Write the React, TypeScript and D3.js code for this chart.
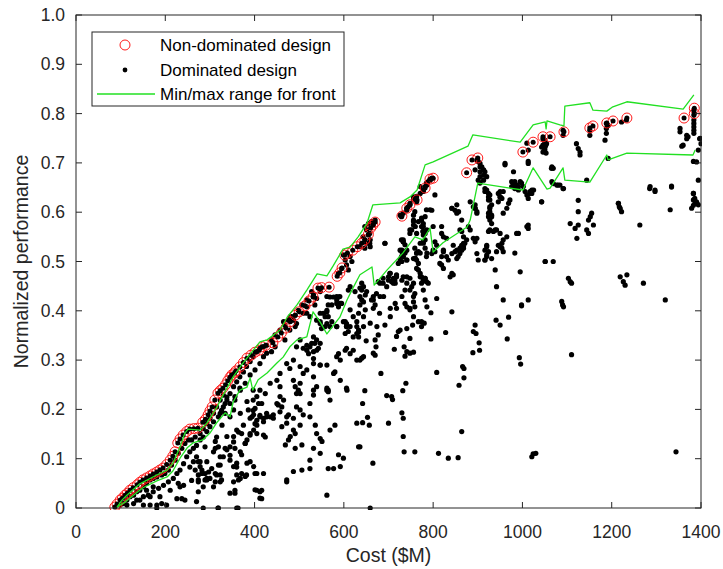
import React from 'react';
import * as d3 from 'd3';

// ---------- DATA ----------
const xTicks = [0, 200, 400, 600, 800, 1000, 1200, 1400];
const yTicks = [0, 0.1, 0.2, 0.3, 0.4, 0.5, 0.6, 0.7, 0.8, 0.9, 1.0];
const yTickLabels = ['0', '0.1', '0.2', '0.3', '0.4', '0.5', '0.6', '0.7', '0.8', '0.9', '1.0'];
const xLabel = 'Cost ($M)';
const yLabel = 'Normalized performance';
const legendLabels = ['Non-dominated design', 'Dominated design', 'Min/max range for front'];

// Non-dominated designs [cost, performance]
const nonDominated: [number, number][] = [
  [87, .002], [92, .008], [99, .016], [104, .02], [110, .026], [115, .03], [121, .036], [128, .041], [137, .047], [143, .052],
  [150, .057], [158, .061], [166, .065], [173, .069], [181, .073], [188, .077], [195, .081], [203, .088], [211, .097], [217, .105],
  [222, .114], [228, .132], [233, .14], [240, .148], [248, .155], [255, .16], [264, .161], [273, .162], [284, .174], [290, .18],
  [296, .189], [300, .197], [305, .205], [311, .219], [318, .233], [323, .238], [329, .243], [335, .25], [340, .258], [345, .265],
  [349, .27], [355, .274], [358, .278], [367, .286], [375, .295], [383, .304], [392, .31], [401, .316], [410, .32], [417, .327],
  [425, .33], [441, .335], [452, .347], [460, .355], [470, .365], [480, .378], [491, .391], [500, .398], [513, .41], [522, .42],
  [531, .428], [542, .446], [550, .447], [567, .448], [585, .47], [591, .477], [596, .487], [602, .513], [608, .517], [620, .523],
  [630, .53], [640, .537], [647, .544], [655, .555], [660, .568], [665, .574], [670, .58], [730, .592], [741, .608], [748, .615],
  [764, .625], [782, .649], [793, .667], [800, .669], [875, .68], [887, .706], [900, .71], [1001, .722], [1024, .742], [1046, .753],
  [1062, .753], [1093, .763], [1151, .771], [1158, .775], [1189, .781], [1203, .785], [1234, .791], [1362, .791], [1385, .811], [1385, .80],
];

// Max (upper) and min (lower) range of the front
const frontMax: [number, number][] = [
  [92, .002], [103, .016], [114, .026], [143, .049], [181, .067], [204, .077], [217, .091], [233, .124], [244, .152], [251, .16],
  [278, .158], [293, .172], [316, .205], [327, .225], [352, .266], [374, .294], [412, .337], [428, .341], [457, .361], [473, .387],
  [495, .412], [517, .442], [540, .475], [562, .471], [576, .491], [598, .525], [614, .529], [632, .55], [652, .578], [665, .615],
  [726, .619], [748, .631], [764, .645], [782, .696], [800, .702], [878, .734], [889, .757], [995, .742], [1024, .777], [1051, .783],
  [1053, .769], [1055, .785], [1084, .777], [1093, .775], [1095, .815], [1151, .822], [1158, .807], [1189, .805], [1201, .813], [1234, .824],
  [1360, .809], [1384, .838],
];
const frontMin: [number, number][] = [
  [92, .002], [110, .012], [137, .032], [150, .041], [181, .055], [204, .063], [217, .075], [233, .101], [249, .122], [262, .132],
  [284, .138], [300, .152], [316, .174], [334, .193], [345, .185], [352, .215], [367, .239], [383, .245], [390, .264], [396, .239],
  [408, .26], [428, .274], [450, .294], [464, .306], [479, .327], [495, .341], [517, .347], [531, .398], [547, .377], [562, .353],
  [591, .387], [607, .422], [618, .442], [636, .473], [663, .489], [668, .452], [697, .483], [732, .517], [759, .55], [777, .544],
  [793, .568], [800, .519], [822, .538], [876, .57], [883, .584], [900, .659], [972, .649], [1001, .645], [1024, .69], [1055, .647],
  [1062, .649], [1091, .69], [1095, .665], [1151, .661], [1189, .716], [1192, .706], [1234, .72], [1382, .716], [1387, .726],
];

// Dominated designs [cost, performance], grouped by region of the plot
const dominatedLow: [number, number][] = [
  [99, .006], [106, .009], [114, .016], [121, .023], [129, .026], [136, .033], [143, .036], [151, .043], [158, .05], [166, .057],
  [173, .06], [181, .063], [192, .067], [199, .07], [207, .077], [214, .087], [222, .097], [229, .111], [237, .121], [244, .131],
  [252, .138], [259, .138], [267, .144], [278, .151], [285, .161], [293, .171], [300, .182], [308, .192], [315, .205], [323, .219],
  [330, .229], [114, .006], [129, .009], [143, .016], [151, .023], [162, .026], [173, .033], [185, .04], [196, .046], [207, .053],
  [218, .06], [226, .07], [233, .077], [241, .09], [248, .104], [255, .114], [263, .121], [270, .127], [278, .138], [285, .144],
  [293, .155], [300, .165], [308, .175], [319, .185], [326, .198], [334, .212], [338, .225], [136, .016], [151, .006], [166, .006],
  [181, .006], [192, .009], [203, .006], [158, .036], [173, .043], [166, .023], [188, .023], [211, .036], [226, .019], [233, .043],
  [241, .046], [229, .05], [255, .083], [263, .094], [270, .104], [259, .056], [274, .067], [282, .077], [278, .094], [289, .07],
  [297, .073], [304, .08], [285, .043], [308, .043], [274, .033], [270, .013], [293, .06], [315, .067], [326, .057], [323, .087],
  [319, .124], [312, .121], [330, .104], [345, .107], [334, .121], [315, .144], [353, .134], [364, .154], [379, .131], [390, .151],
  [397, .198], [394, .185], [401, .171], [412, .188], [420, .182], [416, .212], [397, .219], [424, .144], [360, .083], [371, .07],
  [382, .067], [401, .07], [360, .067], [345, .097], [356, .036], [405, .036], [416, .036], [416, .019], [312, .053], [274, .053],
  [285, 0], [319, 0], [360, 0], [237, .019], [244, .016], [293, .057], [363, 0], [181, 0], [318, 0],
];
const dominatedMidLeft: [number, number][] = [
  [453, .209], [465, .219], [457, .195], [472, .172], [461, .165], [487, .158], [491, .151], [480, .145], [476, .138], [469, .128],
  [502, .168], [509, .189], [524, .185], [536, .168], [539, .151], [547, .141], [551, .135], [532, .121], [547, .111], [506, .128],
  [491, .121], [524, .097], [569, .219], [565, .236], [607, .239], [599, .101], [588, .108], [577, .08], [565, .08], [562, .026],
  [524, .08], [506, .077], [487, .074], [472, .057], [472, .053], [592, .084], [633, .124], [629, .172], [569, .158], [580, .168],
  [368, .239], [383, .216], [386, .199], [398, .189], [405, .178], [420, .175], [427, .185], [442, .182], [405, .168], [398, .158],
  [405, .151], [420, .148], [390, .148], [383, .138], [371, .151], [360, .158], [356, .121], [368, .114], [379, .131], [371, .108],
  [398, .084], [405, .07], [420, .07], [379, .064], [368, .06], [364, .057], [353, .053], [401, .037], [412, .033], [412, .02],
  [356, .03], [345, .03], [323, .053], [312, .07], [323, .067], [282, .07], [274, .057], [289, .057], [300, .06], [319, .087],
  [323, .104], [338, .118], [345, .124], [353, .145], [338, .145], [327, .168], [312, .135], [289, .124], [308, .114], [345, .185],
  [353, .199], [356, .219], [368, .192], [375, .168], [293, .094], [278, .084], [274, .094], [267, .077], [353, .084], [360, .091],
  [383, .091], [390, .094],
];
const dominatedFrontBand: [number, number][] = [
  [323, .192], [330, .205], [338, .219], [345, .232], [353, .246], [360, .256], [367, .266], [375, .276], [382, .287], [390, .297],
  [397, .307], [405, .317], [412, .324], [420, .327], [427, .33], [438, .341], [446, .351], [457, .361], [468, .371], [476, .381],
  [483, .388], [491, .391], [498, .401], [506, .412], [517, .422], [532, .432], [547, .439], [334, .192], [345, .212], [356, .226],
  [367, .243], [379, .253], [390, .27], [401, .28], [412, .293], [420, .307], [427, .314], [438, .317], [446, .327], [468, .341],
  [479, .361], [494, .374], [517, .395], [535, .412], [465, .378], [509, .324], [517, .32], [524, .327], [535, .334], [539, .341],
  [532, .317], [543, .324], [547, .334], [502, .287], [509, .273], [532, .293], [547, .29], [562, .29], [580, .276], [491, .246],
  [498, .239], [494, .232], [532, .239], [532, .229], [562, .243], [565, .239], [606, .243], [584, .307], [592, .3], [603, .32],
  [636, .3], [644, .307], [629, .354], [633, .347], [629, .378], [633, .395], [603, .378], [606, .368], [610, .358], [625, .439],
  [636, .429], [644, .418], [562, .401], [565, .388], [562, .374], [569, .368], [573, .412], [584, .415], [584, .429], [547, .374],
  [550, .364], [457, .226], [450, .212], [461, .205], [494, .205], [502, .199], [524, .212], [427, .192], [435, .185], [442, .189],
  [397, .239], [405, .226], [409, .212], [401, .202], [390, .182], [412, .185], [472, .185], [487, .182], [476, .189],
  [539, .381], [547, .395], [558, .388], [562, .398], [569, .428], [577, .428], [588, .428], [592, .415], [584, .368], [603, .354],
  [614, .368], [606, .374], [621, .347], [621, .32], [629, .3], [633, .357], [614, .313], [606, .324], [588, .313], [592, .259],
  [577, .273], [562, .239], [547, .29], [539, .32], [532, .303], [517, .33], [528, .334], [532, .347], [521, .313], [502, .341],
  [494, .327], [487, .3], [479, .283], [472, .293], [457, .273], [450, .259], [487, .259], [502, .253], [517, .28], [532, .266],
  [539, .246], [502, .232], [457, .246], [435, .253], [424, .232], [412, .239],
];
const dominatedCenter: [number, number][] = [
  [651, .564], [655, .554], [659, .544], [651, .537], [659, .53], [647, .527], [599, .513], [603, .503], [606, .493], [595, .486],
  [610, .483], [588, .476], [614, .51], [618, .5], [528, .439], [532, .432], [539, .425], [480, .388], [487, .381], [491, .368],
  [591, .429], [595, .415], [588, .408], [584, .422], [614, .449], [610, .442], [640, .442], [648, .432], [640, .422], [636, .412],
  [648, .402], [644, .388], [692, .537], [733, .54], [730, .523], [737, .517], [733, .51], [741, .503], [730, .5], [756, .594],
  [756, .581], [760, .571], [778, .577], [782, .591], [786, .564], [778, .554], [782, .544], [763, .517], [786, .517], [704, .476],
  [700, .462], [711, .466], [715, .456], [718, .469], [730, .462], [741, .456], [748, .466], [737, .442], [730, .429], [763, .486],
  [771, .469], [782, .466], [774, .456], [778, .442], [681, .429], [689, .429], [715, .415], [704, .405], [718, .405], [666, .422],
  [670, .412], [614, .402], [621, .388], [599, .378], [584, .368], [606, .368], [629, .368], [633, .361], [659, .375], [674, .368],
  [692, .371], [704, .388], [756, .429], [748, .402], [756, .388], [767, .378], [774, .368], [786, .408], [782, .422], [562, .429],
  [565, .412], [554, .395], [547, .378], [558, .368], [573, .378], [517, .408], [509, .395], [524, .388],
  [666, .405], [680, .395], [644, .368], [650, .339], [670, .341], [672, .327], [677, .351], [640, .304], [666, .314], [670, .31],
  [683, .273], [647, .238], [642, .212], [696, .228], [707, .226], [709, .22], [732, .238], [739, .253], [730, .193], [733, .182],
  [653, .184], [657, .168], [642, .173], [700, .172], [733, .145], [636, .124], [665, .091], [735, .114], [759, .114], [812, .111],
  [834, .101], [856, .102], [864, .155], [808, .275], [858, .249], [869, .264], [866, .287], [869, .283], [828, .356], [795, .343],
  [795, .396], [842, .398], [894, .371], [890, .358], [896, .354], [903, .335], [904, .32], [889, .315], [941, .381], [950, .371],
  [969, .387], [966, .343], [993, .305], [996, .292], [998, .41], [1021, .104], [1024, .11], [1030, .111], [659, 0], [718, .348],
  [722, .358], [726, .361], [741, .364], [754, .371], [774, .378], [780, .375], [748, .344], [713, .322], [735, .327], [741, .317],
  [748, .314], [756, .316], [737, .308], [737, .415], [741, .408], [748, .405], [759, .408], [756, .418], [1344, .114],
];
const dominatedUpper: [number, number][] = [
  [647, .571], [655, .577], [662, .581], [666, .574], [670, .584], [643, .55], [647, .544], [658, .557], [658, .537], [636, .53],
  [692, .537], [726, .594], [729, .591], [741, .608], [744, .611], [748, .618], [756, .625], [763, .632], [771, .638], [778, .645],
  [782, .652], [785, .659], [789, .662], [793, .665], [797, .669], [804, .635], [793, .605], [785, .605], [759, .601], [756, .574],
  [767, .581], [774, .588], [774, .571], [778, .561], [782, .557], [819, .571], [853, .615], [857, .601], [842, .608], [883, .621],
  [804, .54], [808, .533], [860, .564], [864, .561], [868, .55], [898, .601], [894, .608], [890, .611], [894, .686], [898, .706],
  [901, .703], [905, .699], [909, .692], [912, .686], [916, .682], [920, .672], [916, .648], [920, .645], [924, .638], [927, .635],
  [924, .631], [927, .625], [931, .615], [927, .608], [924, .598], [927, .594], [931, .591], [924, .561], [927, .564], [935, .561],
  [942, .564], [950, .557], [946, .638], [950, .631], [954, .628], [957, .642], [961, .696], [972, .625], [976, .652], [980, .659],
  [983, .662], [987, .655], [991, .652], [995, .662], [998, .659], [1002, .652], [1006, .642], [1010, .635], [1013, .628], [1017, .642],
  [1021, .638], [1025, .645], [1013, .699], [1043, .621], [1066, .692], [1068, .659], [1077, .655], [1084, .655], [1092, .648], [1107, .577],
  [1118, .567], [1125, .574], [1122, .547], [1125, .601], [1148, .584], [1152, .591], [1155, .598], [1159, .574], [1144, .564], [1148, .557],
  [1263, .574], [1215, .618], [1219, .608], [1222, .601], [1331, .605], [1383, .638], [1379, .608], [1383, .625], [1387, .621], [1391, .618],
  [1394, .615], [1383, .703], [1394, .665], [1286, .652], [1297, .642], [1334, .653], [1013, .574], [987, .557], [957, .544], [954, .537],
  [950, .53], [942, .52], [920, .53], [916, .523], [920, .51], [916, .503], [898, .547], [875, .544], [871, .537], [868, .53],
  [864, .523], [860, .516], [856, .51], [853, .523], [860, .527], [842, .476], [838, .469], [845, .473], [819, .493], [815, .496],
  [823, .486], [808, .425], [782, .466], [785, .459], [789, .456], [771, .476], [774, .469], [778, .462], [767, .483], [756, .456],
  [752, .449], [748, .442], [759, .435], [741, .469], [733, .469], [718, .473], [714, .462], [711, .456], [707, .459], [696, .449],
  [688, .456], [688, .466], [703, .476], [700, .469], [677, .459], [681, .456], [673, .435], [666, .429], [651, .439], [644, .449],
  [640, .456], [636, .446], [662, .422], [726, .503], [729, .51], [733, .517], [737, .52], [741, .523], [722, .496], [759, .527],
  [771, .537], [778, .54], [763, .557], [752, .564], [748, .557], [726, .523], [729, .544], [733, .54], [756, .506], [767, .52],
  [771, .517], [785, .51], [767, .496], [763, .503], [797, .516], [800, .523], [804, .52], [823, .523], [830, .51], [834, .503],
  [842, .516], [849, .52], [868, .537], [898, .516], [901, .503], [939, .483], [942, .449], [957, .422], [995, .479], [998, .412],
  [1013, .422], [1051, .5], [1103, .466], [1107, .459], [1110, .456], [1219, .469], [1226, .459], [1230, .452], [1234, .473], [1271, .456],
  [1320, .422], [1088, .419], [1090, .412], [1092, .408], [1110, .311],
];
const dominatedTop: [number, number][] = [
  [1046, .749], [1050, .743], [1046, .736], [1050, .729], [1046, .722], [1054, .739], [1043, .732], [1091, .766], [1091, .756], [1121, .739],
  [1125, .729], [1129, .722], [1129, .716], [1151, .766], [1151, .756], [1188, .78], [1188, .77], [1188, .76], [1192, .776], [1185, .746],
  [1233, .787], [1222, .783], [1192, .709], [1065, .689], [1069, .658], [1080, .655], [1091, .648], [1144, .665], [1285, .648], [1297, .645],
  [1334, .651], [1353, .77], [1353, .763], [1368, .756], [1368, .749], [1360, .736], [1384, .807], [1384, .797], [1384, .787], [1384, .78],
  [1384, .773], [1384, .766], [1384, .76], [1397, .749], [1400, .739], [1394, .726], [1390, .702], [1383, .638], [1386, .628], [1390, .621],
  [1383, .614], [1215, .618], [1217, .611], [1125, .624], [1357, .734], [1371, .753], [1398, .75],
  [771, .652], [778, .642], [786, .655], [793, .665], [756, .631], [763, .621], [748, .615], [741, .604], [733, .598], [797, .604],
  [774, .584], [778, .571], [777, .561], [756, .584], [842, .608], [849, .604], [853, .598], [864, .584], [905, .692], [905, .682],
  [905, .672], [901, .665], [905, .659], [913, .686], [913, .675], [913, .665], [894, .615], [894, .608], [898, .598], [916, .642],
  [924, .625], [927, .611], [927, .601], [931, .594], [924, .591], [950, .642], [950, .631], [946, .621], [957, .598], [969, .618],
  [965, .608], [961, .699], [980, .682], [976, .662], [980, .655], [983, .648], [987, .655], [991, .645], [1013, .703], [1021, .645],
  [1017, .638], [1043, .621], [1066, .662], [1069, .689], [1050, .746], [1052, .735], [1050, .726], [1053, .72], [1010, .74], [1013, .726],
  [733, .544], [737, .534], [730, .52], [733, .51], [741, .503], [763, .517], [760, .507], [778, .537], [782, .527], [823, .52],
  [819, .51], [845, .533], [864, .533], [868, .527], [853, .506], [890, .547], [894, .54], [920, .533], [924, .52], [920, .513],
  [916, .503], [931, .506], [946, .533], [954, .527], [957, .52], [965, .55], [983, .517], [991, .557], [1010, .571], [1013, .567],
  [1051, .5], [1069, .5], [819, .557], [823, .55], [830, .547], [800, .571], [748, .564], [879, .571], [883, .564], [927, .584],
  [931, .577], [939, .564],
];

const dominated: [number, number][] = [
  ...dominatedLow, ...dominatedMidLeft, ...dominatedFrontBand,
  ...dominatedCenter, ...dominatedUpper, ...dominatedTop,
];

// ---------- CHART ----------
const W = 723;
const H = 569;
const PLOT = { left: 76, right: 701, top: 15, bottom: 508 };
const AXIS_COLOR = '#262626';
const GREEN = '#22e022';
const RED = '#ff1a1a';
const FONT = "'Liberation Sans', Arial, Helvetica, sans-serif";

export default function App() {
  const x = d3.scaleLinear().domain([0, 1400]).range([PLOT.left, PLOT.right]);
  const y = d3.scaleLinear().domain([0, 1]).range([PLOT.bottom, PLOT.top]);
  const line = d3.line<[number, number]>().x(d => x(d[0])).y(d => y(d[1]));
  const tickLen = 6;

  return (
    <svg
      width={W}
      height={H}
      style={{ position: 'absolute', left: 0, top: 0, background: '#fff' }}
      fontFamily={FONT}
    >
      <rect x={0} y={0} width={W} height={H} fill="#fff" />
      <defs>
        <clipPath id="plotclip">
          <rect x={PLOT.left} y={PLOT.top - 2} width={PLOT.right - PLOT.left + 1} height={PLOT.bottom - PLOT.top + 4} />
        </clipPath>
      </defs>

      <g clipPath="url(#plotclip)">
        {dominated.map((d, i) => (
          <circle key={'d' + i} cx={x(d[0])} cy={y(d[1])} r={2.6} fill="#000" />
        ))}
        {nonDominated.map((d, i) => (
          <circle key={'n' + i} cx={x(d[0])} cy={y(d[1])} r={5} fill="none" stroke={RED} strokeWidth={1} />
        ))}
        {nonDominated.map((d, i) => (
          <circle key={'nd' + i} cx={x(d[0])} cy={y(d[1])} r={2.5} fill="#000" />
        ))}
        <path d={line(frontMax) || ''} fill="none" stroke={GREEN} strokeWidth={1.3} strokeLinejoin="round" />
        <path d={line(frontMin) || ''} fill="none" stroke={GREEN} strokeWidth={1.3} strokeLinejoin="round" />
      </g>

      {/* axes box */}
      <rect
        x={PLOT.left}
        y={PLOT.top}
        width={PLOT.right - PLOT.left}
        height={PLOT.bottom - PLOT.top}
        fill="none"
        stroke={AXIS_COLOR}
        strokeWidth={1}
      />
      {xTicks.map(t => (
        <g key={'xt' + t}>
          <line x1={x(t)} x2={x(t)} y1={PLOT.bottom} y2={PLOT.bottom - tickLen} stroke={AXIS_COLOR} />
          <line x1={x(t)} x2={x(t)} y1={PLOT.top} y2={PLOT.top + tickLen} stroke={AXIS_COLOR} />
          <text x={x(t)} y={PLOT.bottom + 30} textAnchor="middle" fontSize={17.5} fill={AXIS_COLOR}>
            {String(t)}
          </text>
        </g>
      ))}
      {yTicks.map((t, i) => (
        <g key={'yt' + t}>
          <line x1={PLOT.left} x2={PLOT.left + tickLen} y1={y(t)} y2={y(t)} stroke={AXIS_COLOR} />
          <line x1={PLOT.right} x2={PLOT.right - tickLen} y1={y(t)} y2={y(t)} stroke={AXIS_COLOR} />
          <text x={PLOT.left - 11} y={y(t) + 6} textAnchor="end" fontSize={17.5} fill={AXIS_COLOR}>
            {yTickLabels[i]}
          </text>
        </g>
      ))}
      <text x={(PLOT.left + PLOT.right) / 2} y={562} textAnchor="middle" fontSize={19.5} fill={AXIS_COLOR}>
        {xLabel}
      </text>
      <text
        transform={`translate(28, ${(PLOT.top + PLOT.bottom) / 2}) rotate(-90)`}
        textAnchor="middle"
        fontSize={19.5}
        fill={AXIS_COLOR}
      >
        {yLabel}
      </text>

      {/* legend */}
      <g>
        <rect x={92} y={32} width={252} height={74} fill="#fff" stroke={AXIS_COLOR} strokeWidth={1} />
        <circle cx={125} cy={45} r={5} fill="none" stroke={RED} strokeWidth={1} />
        <circle cx={125} cy={70} r={2.4} fill="#000" />
        <line x1={97} x2={155} y1={94} y2={94} stroke={GREEN} strokeWidth={1.3} />
        {legendLabels.map((s, i) => (
          <text key={s} x={160} y={51 + i * 24.5} fontSize={17} fill="#000">
            {s}
          </text>
        ))}
      </g>
    </svg>
  );
}
